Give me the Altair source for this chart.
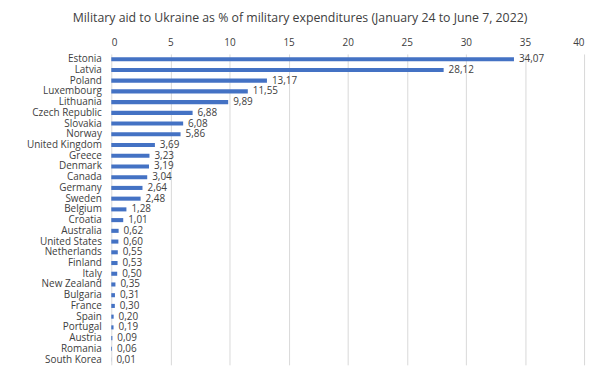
import altair as alt
import pandas as pd

countries = ["Estonia", "Latvia", "Poland", "Luxembourg", "Lithuania", "Czech Republic",
             "Slovakia", "Norway", "United Kingdom", "Greece", "Denmark", "Canada",
             "Germany", "Sweden", "Belgium", "Croatia", "Australia", "United States",
             "Netherlands", "Finland", "Italy", "New Zealand", "Bulgaria", "France",
             "Spain", "Portugal", "Austria", "Romania", "South Korea"]
values = [34.07, 28.12, 13.17, 11.55, 9.89, 6.88, 6.08, 5.86, 3.69, 3.23, 3.19, 3.04,
          2.64, 2.48, 1.28, 1.01, 0.62, 0.60, 0.55, 0.53, 0.50, 0.35, 0.31, 0.30,
          0.20, 0.19, 0.09, 0.06, 0.01]
x_ticks = [0, 5, 10, 15, 20, 25, 30, 35, 40]

df = pd.DataFrame({"country": countries, "value": values})
df["label"] = [f"{v:.2f}".replace(".", ",") for v in values]

FONT = "Open Sans"
COLOR = "#4472C4"

base = alt.Chart(df).encode(
    y=alt.Y("country:N", sort=countries,
            scale=alt.Scale(paddingInner=0.62, paddingOuter=0.3),
            axis=alt.Axis(title=None, ticks=False, domain=False, labelPadding=10,
                          labelFont=FONT, labelFontSize=10, labelColor="#404040")),
    x=alt.X("value:Q", scale=alt.Scale(domain=[0, 40], nice=False),
            axis=alt.Axis(orient="top", values=x_ticks, title=None, ticks=False, domain=False,
                          grid=True, gridColor="#D9D9D9", labelPadding=6,
                          labelFont=FONT, labelFontSize=10, labelColor="#404040")),
)

bars = base.mark_bar(color=COLOR)
text = base.mark_text(align="left", baseline="middle", dx=5, font=FONT, fontSize=10,
                      color="#404040").encode(text="label:N")

chart = (bars + text).properties(
    width=476, height=313,
    title=alt.TitleParams("Military aid to Ukraine as % of military expenditures (January 24 to June 7, 2022)",
                          font=FONT, fontSize=12.4, fontWeight="normal", color="#404040",
                          anchor="middle", offset=14, dx=-48),
    autosize=alt.AutoSizeParams(type="none"),
    padding={"left": 104, "top": 45, "right": 8, "bottom": 10},
    background="white",
).configure_view(stroke=None)

chart.save("out.html", embed_options={"renderer": "svg", "actions": False})
